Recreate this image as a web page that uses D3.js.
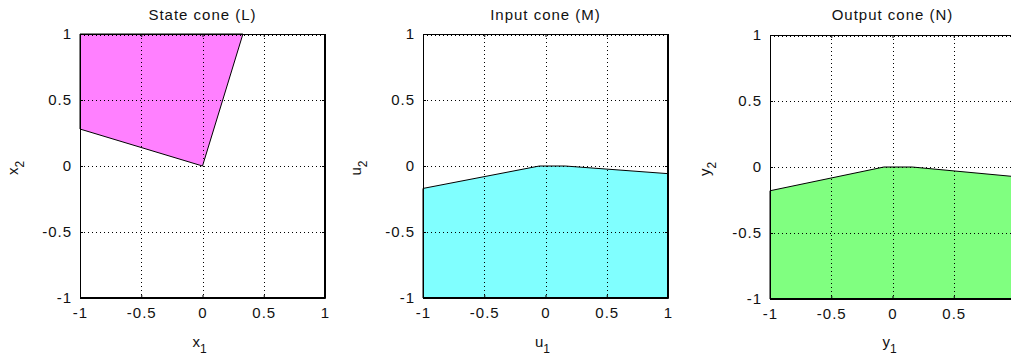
<!DOCTYPE html>
<html><head><meta charset="utf-8">
<script src="https://cdn.jsdelivr.net/npm/d3@7"></script>
<style>body{margin:0;background:#fff;}svg{display:block;}text{font-family:"Liberation Sans",Arial,sans-serif;fill:#111;}</style>
</head><body>
<script>
const tickValues = [-1, -0.5, 0, 0.5, 1];
const tickLabels = ["-1", "-0.5", "0", "0.5", "1"];
const titles = ["State cone (L)", "Input cone (M)", "Output cone (N)"];
const xLabels = ["x", "u", "y"];
const colors = ["#ff80ff", "#80ffff", "#80ff80"];
const stateCone = [[0, 0], [-1, 0.28], [-1, 1], [0.33, 1]];
const inputCone = [[-1, -0.17], [-0.05, 0], [0.16, 0], [1, -0.058], [1, -1], [-1, -1]];
const outputCone = [[-1, -0.18], [-0.07, 0], [0.16, 0], [1, -0.073], [1, -1], [-1, -1]];
const cones = [stateCone, inputCone, outputCone];

const W = 1011, H = 364;
const FS = 15, LS = 1;
const svg = d3.select("body").append("svg").attr("width", W).attr("height", H);
const panels = [
  {left: 80, top: 34, ylab: 18},
  {left: 423, top: 34, ylab: 361},
  {left: 770, top: 35, ylab: 710}
];
const pw = 245, ph = 264;

panels.forEach((p, i) => {
  const x = d3.scaleLinear().domain([-1, 1]).range([p.left, p.left + pw]);
  const y = d3.scaleLinear().domain([-1, 1]).range([p.top + ph, p.top]);
  const g = svg.append("g");
  g.append("path")
    .attr("d", d3.line().x(d => x(d[0])).y(d => y(d[1])).curve(d3.curveLinearClosed)(cones[i]))
    .attr("fill", colors[i]).attr("stroke", "#000").attr("stroke-width", 1);
  g.selectAll(".gx").data(tickValues.slice(1, -1)).enter().append("line")
    .attr("x1", d => Math.round(x(d)) + 0.5).attr("x2", d => Math.round(x(d)) + 0.5)
    .attr("y1", p.top).attr("y2", p.top + ph)
    .attr("stroke", "#000").attr("stroke-width", 1).attr("stroke-dasharray", "1,3");
  g.selectAll(".gy").data(tickValues.slice(1, -1)).enter().append("line")
    .attr("y1", d => Math.round(y(d)) + 0.5).attr("y2", d => Math.round(y(d)) + 0.5)
    .attr("x1", p.left).attr("x2", p.left + pw)
    .attr("stroke", "#000").attr("stroke-width", 1).attr("stroke-dasharray", "1,3");
  g.append("line").attr("x1", p.left).attr("x2", p.left + pw)
    .attr("y1", p.top + 1.5).attr("y2", p.top + 1.5)
    .attr("stroke", "#000").attr("stroke-dasharray", "1,3");
  const bottomAxis = d3.axisBottom(x).tickValues(tickValues).tickFormat((d, k) => tickLabels[k]).tickSizeInner(-3).tickSizeOuter(0).tickPadding(9);
  const leftAxis = d3.axisLeft(y).tickValues(tickValues).tickFormat((d, k) => tickLabels[k]).tickSizeInner(-3).tickSizeOuter(0).tickPadding(8);
  const ba = g.append("g").attr("transform", `translate(0,${p.top + ph})`).call(bottomAxis);
  const la = g.append("g").attr("transform", `translate(${p.left},0)`).call(leftAxis);
  [ba, la].forEach(a => {
    a.attr("font-size", FS).attr("font-family", "'Liberation Sans',Arial,sans-serif");
    a.selectAll("text").attr("font-size", FS).attr("letter-spacing", LS).attr("fill", "#111");
    a.select(".domain").attr("stroke", "#000");
    a.selectAll(".tick line").attr("stroke", "#000");
  });
  g.append("g").attr("transform", `translate(0,${p.top})`).call(d3.axisTop(x).tickValues(tickValues).tickFormat("").tickSizeInner(-3).tickSizeOuter(0))
    .select(".domain").attr("stroke", "none");
  g.append("g").attr("transform", `translate(${p.left + pw},0)`).call(d3.axisRight(y).tickValues(tickValues).tickFormat("").tickSizeInner(-3).tickSizeOuter(0))
    .select(".domain").attr("stroke", "#000");
  g.append("rect").attr("x", p.left + 0.5).attr("y", p.top + 0.5).attr("width", pw - 1).attr("height", ph - 1)
    .attr("fill", "none").attr("stroke", "#000");
  svg.append("text").attr("x", p.left + pw / 2).attr("y", 20).attr("text-anchor", "middle")
    .attr("font-size", FS).attr("letter-spacing", LS).text(titles[i]);
  const xl = svg.append("text").attr("x", p.left + pw / 2 - 3).attr("y", 347).attr("text-anchor", "middle").attr("font-size", FS);
  xl.append("tspan").text(xLabels[i]);
  xl.append("tspan").attr("dy", 6).attr("font-size", 12).text("1");
  const yl = svg.append("text").attr("transform", `translate(${p.ylab},${p.top + ph / 2 + 2}) rotate(-90)`)
    .attr("text-anchor", "middle").attr("font-size", FS);
  yl.append("tspan").text(xLabels[i]);
  yl.append("tspan").attr("dy", 6).attr("font-size", 12).text("2");
});
</script>
</body></html>
